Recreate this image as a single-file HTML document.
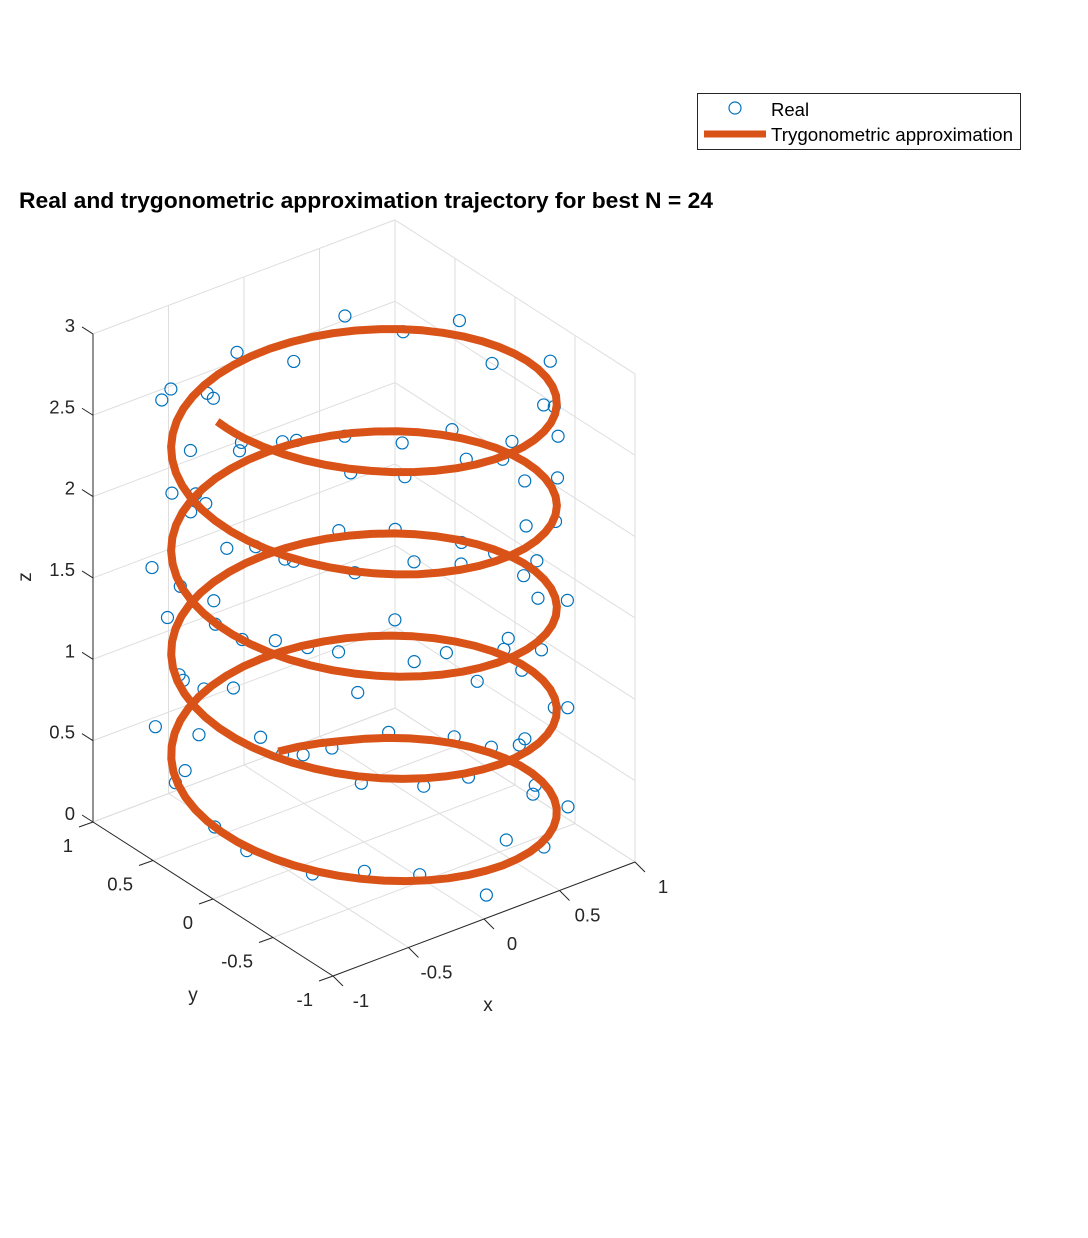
<!DOCTYPE html>
<html><head><meta charset="utf-8"><style>
html,body{margin:0;padding:0;background:#fff;}
svg{display:block;font-family:"Liberation Sans",Arial,sans-serif;}
</style></head><body>
<svg id="chart" width="1088" height="1238" viewBox="0 0 1088 1238">
<text x="19" y="208" text-anchor="start" font-size="22.5" font-weight="bold" fill="#000" textLength="694" lengthAdjust="spacingAndGlyphs">Real and trygonometric approximation trajectory for best N = 24</text>
<g id="grid"></g>
<g id="axes"></g>
<g id="real"></g>
<g id="approx"></g>
<g>
<rect x="697.5" y="93.5" width="323" height="56" fill="#fff" stroke="#262626" stroke-width="1"/>
<circle cx="735" cy="108" r="6" fill="none" stroke="#0072BD" stroke-width="1.2"/>
<text x="771" y="116" font-size="18.5" fill="#000">Real</text>
<line x1="704" y1="134" x2="766" y2="134" stroke="#D95319" stroke-width="7"/>
<text x="771" y="141" font-size="18.5" fill="#000" textLength="242" lengthAdjust="spacingAndGlyphs">Trygonometric approximation</text>
</g>
</svg>
<script>
const xTicks = [-1, -0.5, 0, 0.5, 1];
const yTicks = [-1, -0.5, 0, 0.5, 1];
const zTicks = [0, 0.5, 1, 1.5, 2, 2.5, 3];
const xTickLabels = ["-1", "-0.5", "0", "0.5", "1"];
const yTickLabels = ["-1", "-0.5", "0", "0.5", "1"];
const zTickLabels = ["0", "0.5", "1", "1.5", "2", "2.5", "3"];
const phase0 = 1.36;
const lineT = [0,0.35,0.7,1.05,1.4,1.75,2.1,2.45,2.8,3.15,3.5,3.85,4.2,4.55,4.9,5.25,5.6,5.95,6.3,6.65,7,7.35,7.7,8.05,8.4,8.75,9.1,9.45,9.8,10.15,10.5,10.85,11.2,11.55,11.9,12.25,12.6,12.95,13.3,13.65,14,14.35,14.7,15.05,15.4,15.75,16.1,16.45,16.8,17.15,17.5,17.85,18.2,18.55,18.9,19.25,19.6,19.95,20.3,20.65,21,21.35,21.7,22.05,22.4,22.75,23.1,23.45,23.8,24.15,24.5,24.85,25.2,25.55,25.9,26.25,26.6,26.95,27.3,27.65,28,28.35,28.7,29.05,29.4,29.6];
const lineZ = [0.02,0.035,0.07,0.105,0.14,0.175,0.21,0.245,0.28,0.315,0.35,0.385,0.42,0.455,0.49,0.525,0.56,0.595,0.63,0.665,0.7,0.735,0.77,0.805,0.84,0.875,0.91,0.945,0.98,1.015,1.05,1.085,1.12,1.155,1.19,1.225,1.26,1.295,1.33,1.365,1.4,1.435,1.47,1.505,1.54,1.575,1.61,1.645,1.68,1.715,1.75,1.785,1.82,1.855,1.89,1.925,1.96,1.995,2.03,2.065,2.1,2.135,2.17,2.205,2.24,2.275,2.31,2.345,2.38,2.415,2.45,2.485,2.52,2.555,2.59,2.625,2.66,2.695,2.73,2.765,2.8,2.835,2.87,2.9,2.93,2.95];
const realT = [0,0.3,0.6,0.9,1.2,1.5,1.8,2.1,2.4,2.7,3,3.3,3.6,3.9,4.2,4.5,4.8,5.1,5.4,5.7,6,6.3,6.6,6.9,7.2,7.5,7.8,8.1,8.4,8.7,9,9.3,9.6,9.9,10.2,10.5,10.8,11.1,11.4,11.7,12,12.3,12.6,12.9,13.2,13.5,13.8,14.1,14.4,14.7,15,15.3,15.6,15.9,16.2,16.5,16.8,17.1,17.4,17.7,18,18.3,18.6,18.9,19.2,19.5,19.8,20.1,20.4,20.7,21,21.3,21.6,21.9,22.2,22.5,22.8,23.1,23.4,23.7,24,24.3,24.6,24.9,25.2,25.5,25.8,26.1,26.4,26.7,27,27.3,27.6,27.9,28.2,28.5,28.8,29.1,29.4,29.7,30];
const realR = [0.95,1.04,0.92,1.1,0.98,1.03,0.9,1.06,1.0,0.94,1.12,0.97,1.02,0.91,1.08,0.99,1.05,0.93,1.11,0.96,1.0,1.07,0.92,1.03,0.97,1.09,0.94,1.01,1.06,0.9,1.04,0.98,1.1,0.95,1.02,0.93,1.08,1.0,0.96,1.05,0.91,1.07,0.99,1.03,0.94,1.11,0.97,1.02,0.92,1.06,1.0,0.95,1.09,0.98,1.04,0.9,1.07,0.96,1.01,1.1,0.93,1.03,0.99,1.06,0.91,1.05,0.97,1.08,0.94,1.02,1.0,0.92,1.1,0.96,1.04,0.98,1.07,0.93,1.01,1.05,0.9,1.09,0.97,1.03,0.95,1.06,0.99,1.02,0.92,1.08,1.0,0.94,1.11,0.97,1.04,0.91,1.06,0.98,1.03,0.95,1.05];
const realDz = [0.03,-0.06,0.08,-0.02,0.05,-0.09,0.01,0.07,-0.04,0.1,-0.07,0.02,0.06,-0.08,0.04,-0.01,0.09,-0.05,0.0,0.07,-0.1,0.03,-0.03,0.08,-0.06,0.05,0.02,-0.09,0.06,-0.02,0.1,-0.04,0.01,-0.07,0.08,0.03,-0.05,0.07,-0.1,0.04,-0.01,0.09,-0.06,0.02,0.06,-0.08,0.0,0.05,-0.03,0.1,-0.07,0.03,-0.02,0.08,-0.09,0.04,0.06,-0.05,0.01,-0.08,0.07,-0.03,0.09,-0.01,0.04,-0.1,0.06,0.02,-0.06,0.08,-0.04,0.05,-0.08,0.01,0.1,-0.02,0.03,-0.07,0.07,-0.05,0.0,0.09,-0.03,0.04,-0.09,0.06,-0.01,0.08,-0.06,0.02,-0.1,0.05,0.03,-0.04,0.07,-0.08,0.01,0.09,-0.02,0.06,-0.05];

const NS = "http://www.w3.org/2000/svg";
function sx(x, y, z) { return 93 + (x + 1) * 151 + (1 - y) * 120; }
function sy(x, y, z) { return 822 - (x + 1) * 57 + (1 - y) * 77 - z * 162.7; }
function mk(tag, attrs, parent) {
  const el = document.createElementNS(NS, tag);
  for (const k in attrs) el.setAttribute(k, attrs[k]);
  parent.appendChild(el);
  return el;
}
function seg(p, q, stroke, w, parent) {
  return mk("line", {x1: sx(...p), y1: sy(...p), x2: sx(...q), y2: sy(...q), stroke: stroke, "stroke-width": w}, parent);
}
const grid = document.getElementById("grid");
const axes = document.getElementById("axes");
const gc = "#dedede";
const zMax = 3;
xTicks.forEach(x => { const l = seg([x,1,0],[x,1,zMax],gc,1,grid);   });
zTicks.forEach(z => { const l = seg([-1,1,z],[1,1,z],gc,1,grid);   });
yTicks.forEach(y => { const l = seg([1,y,0],[1,y,zMax],gc,1,grid);   });
zTicks.forEach(z => { const l = seg([1,-1,z],[1,1,z],gc,1,grid);   });
xTicks.forEach(x => { const l = seg([x,-1,0],[x,1,0],gc,1,grid);   });
yTicks.forEach(y => { const l = seg([-1,y,0],[1,y,0],gc,1,grid);   });

const ac = "#262626";
let zl = seg([-1,1,0],[-1,1,zMax],ac,1,axes);
 
zTicks.forEach((z,i) => {
  const X = sx(-1,1,z), Y = sy(-1,1,z);
  const t = mk("line",{x1:X,y1:Y,x2:X-11,y2:Y-7,stroke:ac,"stroke-width":1},axes);
   
  const tx = mk("text",{x:X-18,y:Y-2,"text-anchor":"end","font-size":18.5,fill:ac},axes);
  tx.textContent = zTickLabels[i];
   
});
let yl = seg([-1,1,0],[-1,-1,0],ac,1,axes);
 
yTicks.forEach((y,i) => {
  const X = sx(-1,y,0), Y = sy(-1,y,0);
  const t = mk("line",{x1:X,y1:Y,x2:X-14,y2:Y+5,stroke:ac,"stroke-width":1},axes);
   
  const tx = mk("text",{x:X-20,y:Y+30,"text-anchor":"end","font-size":18.5,fill:ac},axes);
  tx.textContent = yTickLabels[i];
   
});
let xl = seg([-1,-1,0],[1,-1,0],ac,1,axes);
 
xTicks.forEach((x,i) => {
  const X = sx(x,-1,0), Y = sy(x,-1,0);
  const t = mk("line",{x1:X,y1:Y,x2:X+10,y2:Y+10,stroke:ac,"stroke-width":1},axes);
   
  const tx = mk("text",{x:X+28,y:Y+31,"text-anchor":"middle","font-size":18.5,fill:ac},axes);
  tx.textContent = xTickLabels[i];
   
});
const xt = mk("text",{x:488,y:1011,"text-anchor":"middle","font-size":19,fill:ac},axes);
xt.textContent = "x";
 
const yt = mk("text",{x:193,y:1001,"text-anchor":"middle","font-size":19,fill:ac},axes);
yt.textContent = "y";
 
const zt = mk("text",{x:0,y:0,"text-anchor":"middle","font-size":19,fill:ac,transform:"translate(31,577) rotate(-90)"},axes);
zt.textContent = "z";
 

const real = document.getElementById("real");
realT.forEach((t,i) => {
  const a = phase0 - t;
  const x = realR[i] * Math.cos(a), y = realR[i] * Math.sin(a), z = t / 10 + realDz[i];
  const c = mk("circle",{cx:sx(x,y,z),cy:sy(x,y,z),r:6,fill:"none",stroke:"#0072BD","stroke-width":1.2},real);
  
  
});
// approximation line (rendered with sub-steps between samples for smoothness)
const approx = document.getElementById("approx");
const pts = [];
for (let i = 0; i < lineT.length; i++) {
  const sub = i < lineT.length - 1 ? 3 : 1;
  for (let k = 0; k < sub; k++) {
    const f = k / sub;
    const t = i < lineT.length - 1 ? lineT[i] + (lineT[i+1] - lineT[i]) * f : lineT[i];
    const z = i < lineT.length - 1 ? lineZ[i] + (lineZ[i+1] - lineZ[i]) * f : lineZ[i];
    const a = phase0 - t;
    const x = Math.cos(a), y = Math.sin(a);
    pts.push(sx(x,y,z).toFixed(1) + "," + sy(x,y,z).toFixed(1));
  }
}
const pl = mk("polyline",{points:pts.join(" "),fill:"none",stroke:"#D95319","stroke-width":8,"stroke-linejoin":"round"},approx);


</script>
</body></html>
